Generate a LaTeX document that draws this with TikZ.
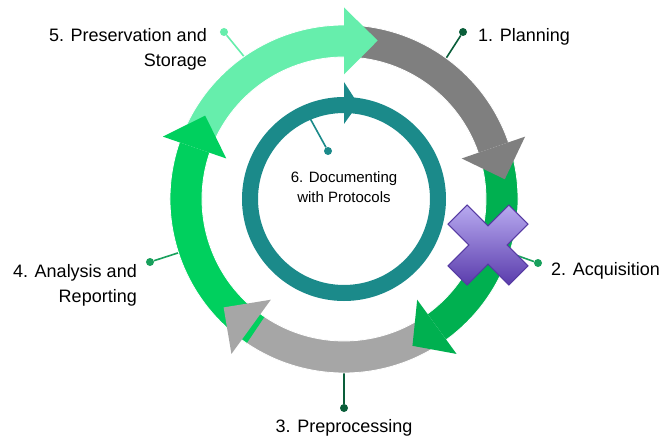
\documentclass[tikz,border=0pt]{standalone}
\usepackage{fontspec}
\setmainfont{Liberation Sans}
\definecolor{stepfive}{RGB}{102,238,172}
\definecolor{stepone}{RGB}{127,127,127}
\definecolor{steptwo}{RGB}{0,176,80}
\definecolor{stepthree}{RGB}{166,166,166}
\definecolor{stepfour}{RGB}{0,208,94}
\definecolor{doccol}{RGB}{27,138,138}
\definecolor{leaddark}{RGB}{10,94,58}
\definecolor{leadmid}{RGB}{24,160,92}
\definecolor{crosstop}{RGB}{184,170,240}
\definecolor{crossbot}{RGB}{90,60,172}
\definecolor{crossline}{RGB}{86,58,162}
\tikzset{
  dotnode/.style={circle,fill=#1,inner sep=0pt,minimum size=8pt},
  lead/.style={draw=#1,line width=1.6pt},
  steplabel/.style={font=\fontsize{18}{25}\selectfont,inner sep=0pt},
  doclabel/.style={font=\fontsize{15}{20}\selectfont,inner sep=0pt,align=center}
}
\begin{document}
\begin{tikzpicture}[x=1pt,y=1pt]
  \useasboundingbox[fill=white] (-344,-240) rectangle (317,199);
  % leader lines (under the rings)
  \node[dotnode=leaddark] (dotplan) at (119,167) {};
  \node[dotnode=leadmid] (dotacq) at (194,-64) {};
  \node[dotnode=leaddark] (dotpre) at (0,-209) {};
  \node[dotnode=leadmid] (dotana) at (-194,-63) {};
  \node[dotnode=stepfive] (dotpres) at (-120,167) {};
  \node[dotnode=doccol] (dotdoc) at (-16,48) {};
  \coordinate (ringplan) at (54:172);
  \coordinate (ringacq) at (-18:172);
  \coordinate (ringpre) at (-90:172);
  \coordinate (ringana) at (198:172);
  \coordinate (ringpres) at (125:172);
  \coordinate (ringdoc) at (113:90);
  \draw[lead=leaddark] (dotplan) -- (ringplan);
  \draw[lead=leadmid] (dotacq) -- (ringacq);
  \draw[lead=leaddark] (dotpre) -- (ringpre);
  \draw[lead=leadmid] (dotana) -- (ringana);
  \draw[lead=stepfive] (dotpres) -- (ringpres);
  \draw[lead=doccol] (dotdoc) -- (ringdoc);
  % outer cycle: shafts first, heads on top
  \foreach \c/\s/\b in {stepfive/158/90,stepone/88/19,steptwo/17/-54,stepthree/-56/-126,stepfour/-124/-199}{
    \fill[\c] (\s:174) arc[start angle=\s,end angle=\b,radius=174] -- (\b:142) arc[start angle=\b,end angle=\s,radius=142] -- cycle;
    \draw[white,line width=0.8pt] (\s:174) arc[start angle=\s,end angle=\b,radius=174] (\s:142) arc[start angle=\s,end angle=\b,radius=142];
  }
  \foreach \c/\b/\t in {stepfive/90/78,stepone/19/7,steptwo/-54/-65,stepthree/-126/-138,stepfour/-199/-211}
    \fill[\c] (\b:124.5) -- (\b:191.5) -- (\t:162) -- cycle;
  % inner ring
  \draw[doccol,line width=16pt] (0,0) circle[radius=94];
  \fill[doccol] (90:75) -- (90:117) -- (81.5:96) -- cycle;
  % cross over acquisition
  \shade[top color=crosstop,bottom color=crossbot,draw=crossline,line width=1pt,shift={(144,-46)}]
    (-40,20.9) -- (-20.9,40) -- (0,19.1) -- (20.9,40) -- (40,20.9) -- (19.1,0) -- (40,-20.9) -- (20.9,-40)
    -- (0,-19.1) -- (-20.9,-40) -- (-40,-20.9) -- (-19.1,0) -- cycle;
  % labels
  \node[steplabel,anchor=west] (plan) at (134,162) {1. Planning};
  \node[steplabel,anchor=west] (acq) at (207,-72) {2. Acquisition};
  \node[steplabel] (pre) at (0,-229) {3. Preprocessing};
  \node[steplabel,anchor=east,align=right] (ana) at (-207,-86) {4. Analysis and\\Reporting};
  \node[steplabel,anchor=east,align=right] (pres) at (-137,150) {5. Preservation and\\Storage};
  \node[doclabel] (doc) at (0,12) {6. Documenting\\with Protocols};
\end{tikzpicture}
\end{document}
